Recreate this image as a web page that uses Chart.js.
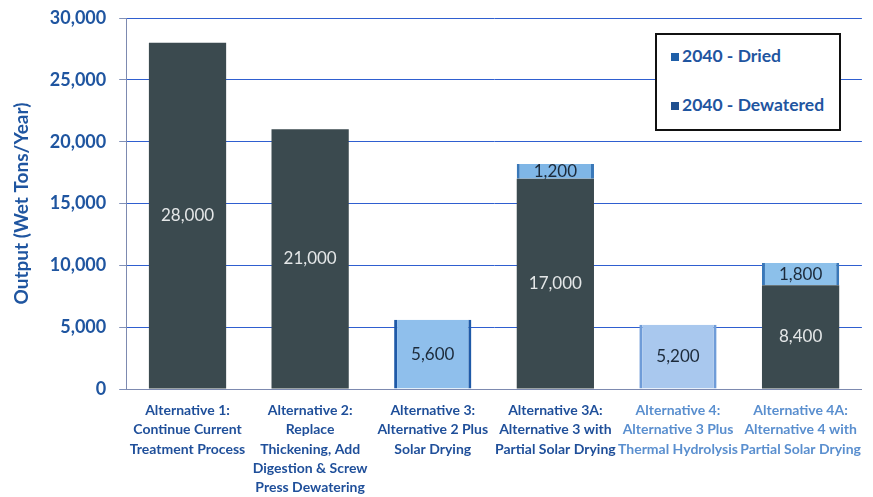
<!DOCTYPE html>
<html>
<head>
<meta charset="utf-8">
<script src="https://cdn.jsdelivr.net/npm/chart.js@4/dist/chart.umd.min.js"></script>
<style>
	html, body { margin: 0; padding: 0; background: #fff; }
	#wrap { position: relative; width: 873px; height: 497px; }
	#legend {
		position: absolute; left: 655px; top: 33px; width: 186px; height: 98px;
		border: 2px solid #111; background: #fff; box-sizing: border-box;
		font: bold 17.5px Lato, sans-serif; color: #1f55a0;
	}
	#legend div { position: absolute; left: 14px; white-space: nowrap; }
	#legend span { display: inline-block; width: 8px; height: 8px; margin-right: 3px; vertical-align: 1px; }
</style>
</head>
<body>
<div id="wrap">
	<canvas id="chart" width="873" height="497"></canvas>
	<div id="legend">
		<div style="top:10px"><span style="background:#1f5fa8"></span>2040 - Dried</div>
		<div style="top:59px"><span style="background:#1f4f8f"></span>2040 - Dewatered</div>
	</div>
</div>
<script>
const categories = [
	['Alternative 1:', 'Continue Current', 'Treatment Process'],
	['Alternative 2:', 'Replace', 'Thickening, Add', 'Digestion & Screw', 'Press Dewatering'],
	['Alternative 3:', 'Alternative 2 Plus', 'Solar Drying'],
	['Alternative 3A:', 'Alternative 3 with', 'Partial Solar Drying'],
	['Alternative 4:', 'Alternative 3 Plus', 'Thermal Hydrolysis'],
	['Alternative 4A:', 'Alternative 4 with', 'Partial Solar Drying']
]
const dewatered = [28000, 21000, 0, 17000, 0, 8400]
const dried = [0, 0, 5600, 1200, 5200, 1800]
const yTicks = [0, 5000, 10000, 15000, 20000, 25000, 30000]
const labelColors = ['#1f4f9a', '#1f4f9a', '#1f4f9a', '#1f4f9a', '#5a8fcf', '#5a8fcf']
const driedFill = ['#8fbfec', '#8fbfec', '#8fbfec', '#7fb6e6', '#a9c8ee', '#8cc0ea']
const driedEdge = ['#1f5aa8', '#1f5aa8', '#1f5aa8', '#3a78b8', '#6f9cd8', '#3a78b8']

const barLabels = {
	id: 'barLabels',
	afterDatasetsDraw(chart) {
		const ctx = chart.ctx
		ctx.save()
		ctx.font = '17px Lato, sans-serif'
		ctx.textAlign = 'center'
		ctx.textBaseline = 'middle'
		chart.data.datasets.forEach((ds, i) => {
			chart.getDatasetMeta(i).data.forEach((bar, j) => {
				const v = ds.data[j]
				if (!v) return
				const y = (bar.y + bar.base) / 2
				ctx.fillStyle = i === 0 ? '#e4e7e8' : '#1c2a3a'
				ctx.fillText(v.toLocaleString('en-US'), bar.x, y)
			})
		})
		ctx.restore()
	}
}

const config = {
	type: 'bar',
	data: {
		labels: categories,
		datasets: [
			{ label: '2040 - Dewatered', data: dewatered, backgroundColor: '#3b4a4f', barPercentage: 0.63, categoryPercentage: 1 },
			{ label: '2040 - Dried', data: dried, backgroundColor: driedFill, borderColor: driedEdge, borderWidth: { left: 3, right: 3, bottom: 3, top: 0 }, barPercentage: 0.63, categoryPercentage: 1 }
		]
	},
	options: {
		responsive: false,
		animation: false,
		layout: { padding: { top: 18, right: 1, left: 10, bottom: -12 } },
		plugins: {
			legend: { display: false },
			tooltip: { enabled: false }
		},
		scales: {
			x: {
				stacked: true,
				grid: { display: false, drawTicks: false },
				border: { color: '#7d8ab0' },
				ticks: {
					maxRotation: 0,
					autoSkip: false,
					padding: 12,
					color: labelColors,
					font: { family: 'Lato, sans-serif', size: 14, weight: 'bold', lineHeight: 1.37 }
				}
			},
			y: {
				stacked: true,
				min: 0,
				max: 30000,
				afterBuildTicks: (axis) => { axis.ticks = yTicks.map(v => ({ value: v })) },
				afterFit: (axis) => { axis.paddingTop = 0 },
				grid: { color: '#2f5fd0', tickColor: '#8090b8', tickLength: 7 },
				border: { color: '#7d8ab0' },
				ticks: {
					padding: 13,
					color: '#1f55a0',
					font: { family: 'Lato, sans-serif', size: 18, weight: 'bold' },
					callback: (v) => v.toLocaleString('en-US')
				},
				title: {
					display: true,
					text: 'Output (Wet Tons/Year)',
					color: '#1f55a0',
					font: { family: 'Lato, sans-serif', size: 19, weight: 'bold' },
					padding: { top: 0, bottom: 4 }
				}
			}
		}
	},
	plugins: [barLabels]
}

new Chart(document.getElementById('chart').getContext('2d'), config)
</script>
</body>
</html>
